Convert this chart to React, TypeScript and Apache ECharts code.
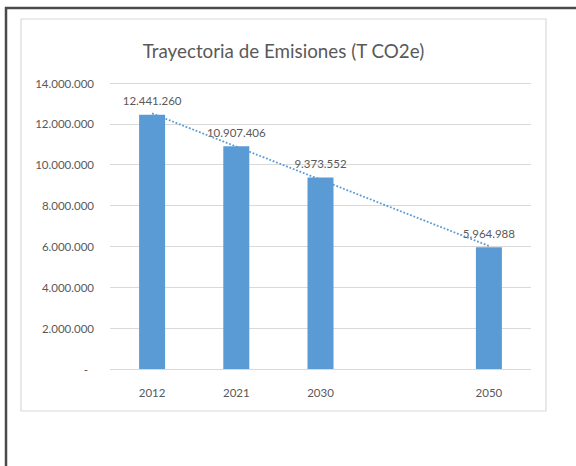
import React, { useEffect, useRef } from "react";
import * as echarts from "echarts";

const categories = ["2012", "2021", "2030", "", "2050"];
const emissions: (number | null)[] = [12441260, 10907406, 9373552, null, 5964988];
const yTicks = { min: 0, max: 14000000, interval: 2000000 };
const titleText = "Trayectoria de Emisiones (T CO2e)";

const FONT = "Lato, 'Open Sans', sans-serif";
const TEXT = "#595959";
const BAR = "#5B9BD5";

function fmt(v: number): string {
  return Math.round(v)
    .toString()
    .replace(/\B(?=(\d{3})+(?!\d))/g, ".");
}

// Linear trendline (least squares over category positions with values)
function trend(vals: (number | null)[]): number[] {
  const pts = vals
    .map((v, i) => (v == null ? null : [i + 1, v]))
    .filter((p): p is number[] => p !== null);
  const n = pts.length;
  const mx = pts.reduce((s, p) => s + p[0], 0) / n;
  const my = pts.reduce((s, p) => s + p[1], 0) / n;
  let sxy = 0;
  let sxx = 0;
  pts.forEach((p) => {
    sxy += (p[0] - mx) * (p[1] - my);
    sxx += (p[0] - mx) * (p[0] - mx);
  });
  const b = sxy / sxx;
  const a = my - b * mx;
  return vals.map((_, i) => a + b * (i + 1));
}

export default function App() {
  const ref = useRef<HTMLDivElement>(null);
  useEffect(() => {
    if (!ref.current) return;
    const chart = echarts.init(ref.current, undefined, { renderer: "svg" });
    chart.setOption({
      animation: false,
      backgroundColor: "#ffffff",
      textStyle: { fontFamily: FONT },
      graphic: [
        {
          type: "line",
          shape: { x1: 5, y1: 8, x2: 576, y2: 8 },
          style: { stroke: "#4a4a4a", lineWidth: 2.5 },
          z: 10,
        },
        {
          type: "line",
          shape: { x1: 6, y1: 7, x2: 6, y2: 466 },
          style: { stroke: "#4a4a4a", lineWidth: 2.5 },
          z: 10,
        },
        {
          type: "rect",
          shape: { x: 21, y: 19, width: 525, height: 392 },
          style: { fill: "none", stroke: "#d9d9d9", lineWidth: 1.2 },
          z: 10,
        },
        {
          type: "text",
          x: 283.5,
          y: 50,
          style: {
            text: titleText,
            fill: TEXT,
            font: `18.8px ${FONT}`,
            align: "center",
            verticalAlign: "middle",
          },
          z: 10,
        },
      ],
      grid: { left: 110, right: 45, top: 83, bottom: 97 },
      xAxis: {
        type: "category",
        data: categories,
        axisLine: { show: false },
        axisTick: { show: false },
        axisLabel: { color: TEXT, fontSize: 11.5, margin: 17, fontFamily: FONT },
      },
      yAxis: {
        type: "value",
        min: yTicks.min,
        max: yTicks.max,
        interval: yTicks.interval,
        axisLine: { show: false },
        axisTick: { show: false },
        splitLine: { lineStyle: { color: "#d9d9d9", width: 1.2 } },
        axisLabel: {
          color: TEXT,
          fontSize: 11.5,
          margin: 16,
          fontFamily: FONT,
          formatter: (v: number) => (v === 0 ? "{z|-}" : fmt(v)),
          rich: { z: { color: TEXT, fontSize: 11.5, padding: [0, 6, 0, 0] } },
        },
      },
      series: [
        {
          type: "bar",
          data: emissions,
          barWidth: 26,
          itemStyle: { color: BAR },
          label: {
            show: true,
            position: "top",
            distance: 8,
            color: TEXT,
            fontSize: 11.5,
            fontFamily: FONT,
            formatter: (p: any) => fmt(p.value),
          },
        },
        {
          type: "line",
          data: trend(emissions),
          symbol: "none",
          lineStyle: { color: BAR, width: 1.8, type: "dotted" },
          z: 5,
        },
      ],
    });
    return () => chart.dispose();
  }, []);
  return (
    <div
      ref={ref}
      style={{ position: "fixed", left: 0, top: 0, width: 576, height: 466 }}
    />
  );
}
